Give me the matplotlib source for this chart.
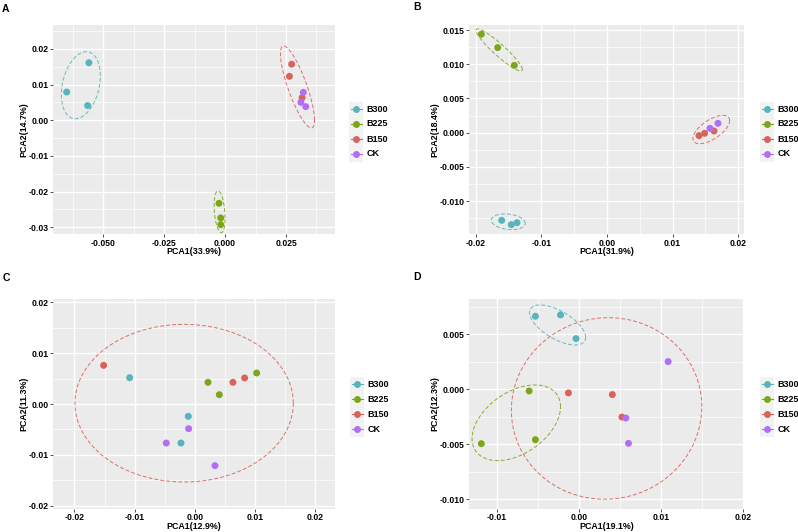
import numpy as np
import matplotlib
matplotlib.use('Agg')
from matplotlib import pyplot as plt
from matplotlib.lines import Line2D
from matplotlib.patches import Rectangle

plt.rcParams['font.family'] = ['Liberation Sans', 'DejaVu Sans']
plt.rcParams['font.weight'] = 'bold'

groups = ['B300', 'B225', 'B150', 'CK']
colors = {'B300': '#56B4BC', 'B225': '#7BA61A', 'B150': '#D9635A', 'CK': '#B26EF6'}

# panel A scores
a_pc1 = {'B300': [-0.0650, -0.0559, -0.0564], 'B225': [-0.0025, -0.0018, -0.0018],
         'B150': [0.0273, 0.0264, 0.0316], 'CK': [0.0321, 0.0311, 0.0331]}
a_pc2 = {'B300': [0.0079, 0.0161, 0.0041], 'B225': [-0.0233, -0.0274, -0.0293],
         'B150': [0.0157, 0.0123, 0.0063], 'CK': [0.0078, 0.0050, 0.0038]}
# ellipse stats: centre x, centre y, sd x, sd y, correlation
a_ell = {'B300': (-0.0592, 0.0098, 0.0080, 0.0094, 0.28),
         'B225': (-0.00225, -0.0257, 0.00225, 0.00584, -0.30),
         'B150': (0.0297, 0.0093, 0.0070, 0.0115, -0.81)}

# panel B scores
b_pc1 = {'B300': [-0.01606, -0.01459, -0.01372], 'B225': [-0.01916, -0.01667, -0.01413],
         'B150': [0.01403, 0.01489, 0.01632], 'CK': [0.01570, 0.01692]}
b_pc2 = {'B300': [-0.01282, -0.01345, -0.01316], 'B225': [0.01438, 0.01243, 0.00984],
         'B150': [-0.00044, -0.00010, 0.00024], 'CK': [0.00063, 0.00136]}
b_ell = {'B300': (-0.01505, -0.01303, 0.00259, 0.00115, -0.20),
         'B225': (-0.01644, 0.01209, 0.00353, 0.00307, -0.93),
         'B150': (0.01590, 0.00045, 0.00280, 0.00207, 0.63)}

# panel C scores
c_pc1 = {'B300': [-0.01084, -0.00111, -0.00232], 'B225': [0.00216, 0.00404, 0.01024],
         'B150': [-0.01516, 0.00631, 0.00824], 'CK': [-0.00105, -0.00476, 0.00332]}
c_pc2 = {'B300': [0.00517, -0.00242, -0.00766], 'B225': [0.00426, 0.00183, 0.00609],
         'B150': [0.00759, 0.00426, 0.00511], 'CK': [-0.00484, -0.00766, -0.01211]}
c_ell = {'B150': (-0.0018, 0.00016, 0.01812, 0.01548, 0.0)}

# panel D scores
d_pc1 = {'B300': [-0.00531, -0.00225, -0.00036], 'B225': [-0.00607, -0.01190, -0.00531],
         'B150': [-0.00129, 0.00406, 0.00523], 'CK': [0.00571, 0.00603, 0.01086]}
d_pc2 = {'B300': [0.00664, 0.00676, 0.00461], 'B225': [-0.00015, -0.00494, -0.00458],
         'B150': [-0.00033, -0.00048, -0.00252], 'CK': [-0.00261, -0.00491, 0.00252]}
d_ell = {'B300': (-0.00261, 0.00585, 0.00342, 0.00182, -0.62),
         'B225': (-0.00764, -0.00304, 0.00539, 0.00344, 0.42),
         'B150': (0.00336, -0.00174, 0.01160, 0.00825, 0.02)}

panels = [
    dict(tag='A', pc1=a_pc1, pc2=a_pc2, ell=a_ell, xlab='PCA1(33.9%)', ylab='PCA2(14.7%)',
         xlim=(-0.0705, 0.0451), ylim=(-0.0320, 0.0266),
         xt=[-0.05, -0.025, 0.0, 0.025], xfmt='%.3f', yt=[-0.03, -0.02, -0.01, 0.0, 0.01, 0.02], yfmt='%.2f',
         box=(53.3, 25.3, 281.7, 209.0), leg=(349.3, 109.0), letter=(2, 4)),
    dict(tag='B', pc1=b_pc1, pc2=b_pc2, ell=b_ell, xlab='PCA1(31.9%)', ylab='PCA2(18.4%)',
         xlim=(-0.02104, 0.02089), ylim=(-0.01486, 0.01569),
         xt=[-0.02, -0.01, 0.0, 0.01, 0.02], xfmt='%.2f', yt=[-0.010, -0.005, 0.0, 0.005, 0.010, 0.015], yfmt='%.3f',
         box=(469.0, 25.3, 275.0, 209.0), leg=(760.0, 109.0), letter=(413, 2)),
    dict(tag='C', pc1=c_pc1, pc2=c_pc2, ell=c_ell, xlab='PCA1(12.9%)', ylab='PCA2(11.3%)',
         xlim=(-0.02351, 0.02324), ylim=(-0.02056, 0.02056),
         xt=[-0.02, -0.01, 0.0, 0.01, 0.02], xfmt='%.2f', yt=[-0.02, -0.01, 0.0, 0.01, 0.02], yfmt='%.2f',
         box=(53.3, 299.3, 281.7, 209.4), leg=(350.0, 384.3), letter=(3, 273)),
    dict(tag='D', pc1=d_pc1, pc2=d_pc2, ell=d_ell, xlab='PCA1(19.1%)', ylab='PCA2(12.3%)',
         xlim=(-0.0134, 0.0201), ylim=(-0.01085, 0.00818),
         xt=[-0.01, 0.0, 0.01, 0.02], xfmt='%.2f', yt=[-0.010, -0.005, 0.0, 0.005], yfmt='%.3f',
         box=(469.0, 299.3, 275.0, 209.4), leg=(760.0, 384.3), letter=(413, 272)),
]

W, H = 798, 532
fig = plt.figure(figsize=(W / 100, H / 100), dpi=100)


def fx(px):
    return px / W


def fy(py):
    return 1 - py / H


def minors(ticks, lim):
    step = ticks[1] - ticks[0]
    m = np.arange(ticks[0] - step / 2, ticks[-1] + step, step)
    return [v for v in m if lim[0] <= v <= lim[1]]


t = np.linspace(0, 2 * np.pi, 240)
for p in panels:
    l, tp, w, h = p['box']
    ax = fig.add_axes([fx(l), fy(tp + h), w / W, h / H])
    ax.set_facecolor('#EBEBEB')
    for s in ax.spines.values():
        s.set_visible(False)
    ax.set_xlim(p['xlim'])
    ax.set_ylim(p['ylim'])
    ax.set_xticks(p['xt'])
    ax.set_xticklabels([p['xfmt'] % v for v in p['xt']])
    ax.set_yticks(p['yt'])
    ax.set_yticklabels([p['yfmt'] % v for v in p['yt']])
    ax.set_xticks(minors(p['xt'], p['xlim']), minor=True)
    ax.set_yticks(minors(p['yt'], p['ylim']), minor=True)
    ax.grid(which='major', color='white', lw=1.0)
    ax.grid(which='minor', color='white', lw=0.5)
    ax.set_axisbelow(True)
    ax.tick_params(which='major', length=2.2, width=0.6, color='#333333', labelsize=6.2,
                   labelcolor='black', pad=1.0)
    ax.tick_params(which='minor', length=0)

    # confidence ellipses
    for g, (cx, cy, sx, sy, r) in p['ell'].items():
        ex = cx + sx * np.cos(t)
        ey = cy + sy * (r * np.cos(t) + np.sqrt(1 - r ** 2) * np.sin(t))
        ax.plot(ex, ey, color=colors[g], lw=0.7, ls=(0, (4, 2.2)), alpha=0.9)

    for g in groups:
        ax.scatter(p['pc1'][g], p['pc2'][g], s=25, color=colors[g], edgecolors='none', zorder=3)

    ax.set_xlabel(p['xlab'], fontsize=6.4, fontweight='bold', va='center')
    ax.set_ylabel(p['ylab'], fontsize=6.4, fontweight='bold', va='center')
    ax.xaxis.set_label_coords(0.5, -17.5 / h)
    ylx = 24.0 if l < 100 else 435.0
    ax.yaxis.set_label_coords((ylx - l) / w, 0.5)

    # legend
    kx, ky = p['leg']
    fig.add_artist(Rectangle((fx(kx), fy(ky + 3 * 15 + 7.5)), 14 / W, 60 / H,
                             transform=fig.transFigure, facecolor='#F2F2F2', edgecolor='none'))
    for i, g in enumerate(groups):
        yy = ky + i * 15
        fig.add_artist(Line2D([fx(kx + 1.5), fx(kx + 12.5)], [fy(yy), fy(yy)],
                              transform=fig.transFigure, color=colors[g], lw=0.8))
        fig.add_artist(Line2D([fx(kx + 7)], [fy(yy)], transform=fig.transFigure, marker='o',
                              markersize=5.0, color=colors[g], markeredgewidth=0, lw=0))
        fig.text(fx(kx + 17.4), fy(yy), g, fontsize=6.5, fontweight='bold', va='center', ha='left')

    fig.text(fx(p['letter'][0]), fy(p['letter'][1]), p['tag'], fontsize=7.5,
             fontweight='bold', va='top', ha='left')

fig.savefig('out.png', dpi=100)
